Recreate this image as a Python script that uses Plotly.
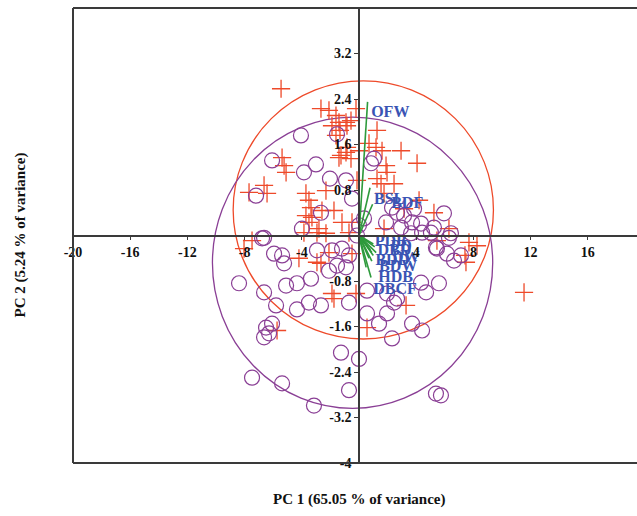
import plotly.graph_objects as go

# ---- data (PC1, PC2 scores) ----
red_x = [-5.45, -2.66, -1.61, -1.40, -0.91, -1.89, -1.33, -0.84, -1.61, -1.26, -0.56, -0.84,
         -5.38, -5.10, -5.24, -7.69, -6.64, -6.43, -3.71, -3.50, -3.36, -3.71, -3.29, -3.50,
         -2.80, -1.75, -2.31, -1.19, -0.49, -0.70, -0.21, -0.14, 1.26, 0.70, 1.19, 1.61,
         2.94, 4.06, 1.89, 1.96, 1.26, 1.54, 2.45, 1.75, 1.75, 3.15, 8.25, 7.48, 5.45,
         3.29, 0.56, 11.54, 6.29, 7.69, -7.48, -2.10, -2.94, -2.66, -1.89, -1.75, -5.73,
         -0.21, -3.85, -2.94, -0.49, -2.10, -0.56, 0.00, -0.91, -1.40, -2.59, -2.31,
         4.20, 5.24, 7.41, -4.20, -8.04]
red_y = [2.58, 2.23, 2.11, 1.99, 1.99, 1.93, 1.85, 1.93, 1.76, 1.41, 1.35, 1.55,
         1.37, 1.11, 1.23, 0.76, 0.88, 0.74, 0.74, 0.62, 0.49, 0.35, 0.32, 0.23,
         0.12, 0.44, 0.79, 0.23, 0.23, 0.05, 2.23, 0.97, 1.85, 1.62, 1.55, 1.49,
         1.49, 1.27, 1.23, 1.11, 1.00, 0.91, 0.91, 0.74, 0.12, 0.47, -0.18, -0.47, -0.09,
         -1.23, -1.62, -1.00, 0.12, -0.12, -0.09, -0.30, -0.47, -0.49, -1.02, -1.11, -1.67,
         -1.02, 0.05, 0.05, -0.32, 2.20, 2.02, 1.49, 1.46, 1.37, 0.44, 0.04,
         0.62, 0.40, -0.35, -0.40, -0.23]

pur_x = [-4.06, -6.08, -3.85, -3.01, -2.03, -0.91, -7.20, -0.49, -2.66, -3.99, -6.64, -0.14, -1.54,
         1.05, 0.84, 5.94, 3.85, 2.31, 2.66, 3.15, 3.71, 4.34, 4.41, 2.94, 1.89, 0.35, 0.00, 6.43, 5.24,
         -6.78, -5.94, -5.38, -5.24, -2.94, -1.19, -0.70, -2.10, -1.54, -0.91, -8.39, -6.64, -5.10,
         -4.34, -3.36, -5.80, -4.34, -3.50, -2.66, -0.70, -6.50, -6.08, -6.64, -6.29, -1.26, 0.00,
         -7.48, -5.38, -0.70, -3.15, 5.45, 6.15, 6.64, 7.13, 4.34, 5.59, 4.69, 0.56, 1.96, 2.66,
         2.45, 0.56, 1.40, 1.96, 3.71, 4.41, 2.31, 5.38, 5.73, -1.89, 6.29, 5.38, 3.64, 5.03]
pur_y = [1.76, 1.32, 1.11, 1.25, 1.00, 0.97, 0.70, 0.65, 0.40, 0.12, -0.04, 0.00, 1.78,
         1.35, 1.27, 0.39, 0.47, 0.49, 0.40, 0.35, 0.23, 0.21, 0.05, 0.14, 0.23, 0.30, 0.18, 0.04, 0.14,
         -0.05, -0.32, -0.35, -0.49, -0.26, -0.23, -0.35, -0.62, -0.53, -0.56, -0.84, -1.00, -0.88,
         -0.84, -0.76, -1.23, -1.30, -1.18, -1.23, -1.18, -1.62, -1.55, -1.79, -1.72, -2.06, -2.17,
         -2.50, -2.60, -2.72, -2.99, -0.23, -0.32, -0.44, -0.35, -0.83, -0.84, -1.00, -0.97, -1.02, -1.11,
         -1.18, -1.37, -1.55, -1.37, -1.55, -1.67, -1.81, -2.78, -2.81, -0.26, -0.04, -0.21, 0.04, 0.05]

# confidence ellipses: centre x, centre y, half-width, half-height
red_ell = (0.30, 0.45, 9.1, 2.27)
pur_ell = (-0.45, -0.48, 9.8, 2.56)

# loading vectors (tips) and labels
vec_x = [0.60, 0.77, 1.00, 0.90, 0.80, 1.10, 0.70, 1.00, 0.60, 0.90, 0.84, 0.50, 1.20, 0.95]
vec_y = [2.35, 0.84, -0.35, -0.30, -0.25, -0.20, -0.40, -0.15, -0.10, -0.45, -0.74, -0.56, -0.30, 0.55]
lab_text = ["OFW", "BSL", "BDF", "PDB", "DBD", "BDD", "PD", "DW", "BDW", "HDB", "DBCF"]
lab_x = [0.85, 1.05, 2.25, 1.10, 1.30, 1.15, 2.20, 2.30, 1.40, 1.35, 1.00]
lab_y = [2.15, 0.62, 0.56, -0.12, -0.28, -0.44, -0.20, -0.40, -0.55, -0.74, -0.96]

x_ticks = [-20, -16, -12, -8, -4, 4, 8, 12, 16]
y_ticks = [3.2, 2.4, 1.6, 0.8, -0.8, -1.6, -2.4, -3.2, -4]

XR = [-20, 19.44]
YR = [-4, 4]

SERIF = "Liberation Serif, Times New Roman, serif"
RED = "#ee4a2a"
PURPLE = "#8a3f95"
GREEN = "#2e9a3c"
BLUE = "#3a54b4"
AX = "#3a3a3a"

fig = go.Figure()

fig.add_trace(go.Scatter(x=red_x, y=red_y, mode="markers",
                         marker=dict(symbol="cross-thin-open", size=13, color=RED,
                                     line=dict(color=RED, width=1.3)),
                         showlegend=False, hoverinfo="skip"))
fig.add_trace(go.Scatter(x=pur_x, y=pur_y, mode="markers",
                         marker=dict(symbol="circle-open", size=15, color=PURPLE,
                                     line=dict(color=PURPLE, width=1.2)),
                         showlegend=False, hoverinfo="skip"))

for vx, vy in zip(vec_x, vec_y):
    fig.add_trace(go.Scatter(x=[0, vx], y=[0, vy], mode="lines",
                             line=dict(color=GREEN, width=1.6),
                             showlegend=False, hoverinfo="skip"))

fig.add_trace(go.Scatter(x=lab_x, y=lab_y, mode="text", text=lab_text,
                         textposition="middle right",
                         textfont=dict(family=SERIF, size=16, color=BLUE, weight="bold"),
                         showlegend=False, hoverinfo="skip"))

for (cx, cy, a, b), col in [(red_ell, RED), (pur_ell, PURPLE)]:
    fig.add_shape(type="circle", xref="x", yref="y",
                  x0=cx - a, x1=cx + a, y0=cy - b, y1=cy + b,
                  line=dict(color=col, width=1.3), layer="below")

# frame (left, top, bottom)
for x0, y0, x1, y1 in [(0, 0, 0, 1), (0, 1, 1, 1), (0, 0, 1, 0)]:
    fig.add_shape(type="line", xref="paper", yref="paper",
                  x0=x0, y0=y0, x1=x1, y1=y1, line=dict(color=AX, width=2))

x0frac = (0 - XR[0]) / (XR[1] - XR[0])
y0frac = (0 - YR[0]) / (YR[1] - YR[0])

tickfont = dict(family=SERIF, size=14, color="#111", weight="bold")
fig.update_layout(
    width=637, height=516,
    margin=dict(l=73, r=0, t=8, b=53),
    plot_bgcolor="white", paper_bgcolor="white",
    xaxis=dict(range=XR, anchor="free", position=y0frac, showgrid=False, zeroline=False,
               showline=True, linecolor=AX, linewidth=1.6,
               tickmode="array", tickvals=x_ticks, ticktext=[str(v) for v in x_ticks],
               ticks="outside", ticklen=4, tickcolor=AX, tickfont=tickfont),
    yaxis=dict(range=YR, anchor="free", position=x0frac, showgrid=False, zeroline=False,
               showline=True, linecolor=AX, linewidth=1.6,
               tickmode="array", tickvals=y_ticks, ticktext=[f"{v:g}" for v in y_ticks],
               ticks="outside", ticklen=4, tickcolor=AX, tickfont=tickfont),
    annotations=[
        dict(text="PC 1 (65.05 % of variance)", xref="paper", yref="paper",
             x=x0frac, y=0, yshift=-26, xanchor="center", yanchor="top", showarrow=False,
             font=dict(family=SERIF, size=15, color="#111", weight="bold")),
        dict(text="PC 2 (5.24 % of variance)", xref="paper", yref="paper",
             x=0, xshift=-53, y=0.5, xanchor="center", yanchor="middle", textangle=-90,
             showarrow=False, font=dict(family=SERIF, size=15, color="#111", weight="bold")),
    ],
)

fig.write_html("out.html", config={"displayModeBar": False},
               post_script="document.body.style.margin='0';document.body.style.overflow='hidden';")
